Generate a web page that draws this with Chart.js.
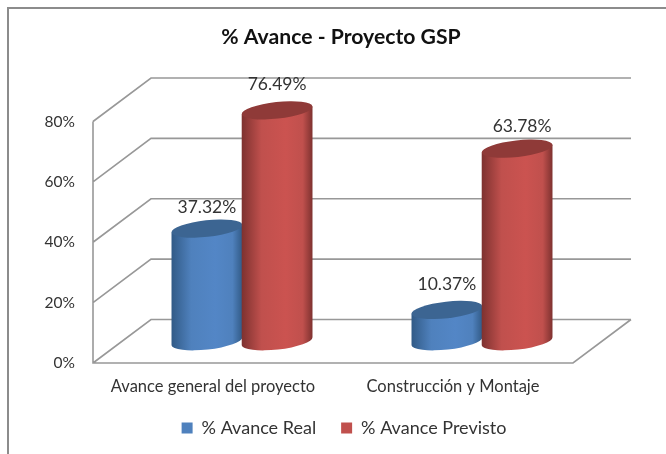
<!DOCTYPE html>
<html>
<head>
<meta charset="utf-8">
<style>html,body{margin:0;padding:0;background:#fff}#w{width:666px;height:454px;position:relative}</style>
<script src="https://cdn.jsdelivr.net/npm/chart.js@4/dist/chart.umd.min.js"></script>
</head>
<body>
<div id="w"><canvas id="c" width="666" height="454"></canvas></div>
<script>
const categories = ['Avance general del proyecto', 'Construcción y Montaje'];
const avanceReal = [37.32, 10.37];
const avancePrevisto = [76.49, 63.78];
const yTicks = [0, 20, 40, 60, 80];
const titleText = '% Avance - Proyecto GSP';
const seriesNames = ['% Avance Real', '% Avance Previsto'];
const seriesColors = ['#4f81bd', '#c0504d'];
const brightColors = ['#5386c6', '#cb5350'];
const edgeColors = ['#315a86', '#7d312f'];
const capColors = ['#3c6592', '#8f3a38'];

const FONT = 'Lato, "Open Sans", sans-serif';
const DEPTH_X = 58, DEPTH_Y = 43.5;
const TILT = 0.11, CAP_RY = 8.3;
const LABEL_GAP = 24;
const LABEL_NUDGE = [[[0, 3], [0, -2]], [[0, -2], [5, 2]]];

function drawCylinder(ctx, el, dsIndex) {
  const p = el.getProps(['x', 'y', 'base', 'width'], true);
  const rx = p.width / 2 + 0.5;
  const c = Math.cos(TILT) * rx, s = Math.sin(TILT) * rx;
  const g = ctx.createLinearGradient(p.x - rx, 0, p.x + rx, 0);
  g.addColorStop(0, edgeColors[dsIndex]);
  g.addColorStop(0.28, seriesColors[dsIndex]);
  g.addColorStop(0.62, brightColors[dsIndex]);
  g.addColorStop(0.86, seriesColors[dsIndex]);
  g.addColorStop(1, edgeColors[dsIndex]);
  ctx.beginPath();
  ctx.ellipse(p.x, p.base, rx, CAP_RY, -TILT, 0, Math.PI);
  ctx.lineTo(p.x - c, p.y + s);
  ctx.lineTo(p.x + c, p.y - s);
  ctx.closePath();
  ctx.fillStyle = g;
  ctx.fill();
  ctx.beginPath();
  ctx.ellipse(p.x, p.y, rx, CAP_RY, -TILT, 0, Math.PI * 2);
  ctx.fillStyle = capColors[dsIndex];
  ctx.fill();
}

const scene = {
  id: 'scene',
  beforeLayout(chart) {
    [chart.legend, chart.titleBlock].forEach(b => {
      if (b && !b._zeroed) {
        const f = b.update;
        b.update = function (w, h, m) { f.call(this, w, h, m); this.height = 0; };
        b._zeroed = true;
      }
    });
  },
  afterLayout(chart) {
    chart.titleBlock.left = 0; chart.titleBlock.right = 682; chart.titleBlock.top = 24.5;
    chart.legend.left = 22; chart.legend.right = 666; chart.legend.top = 394;
  },
  beforeDraw(chart) {
    const ctx = chart.ctx;
    ctx.save();
    ctx.strokeStyle = '#8c8c8c';
    ctx.lineWidth = 2;
    ctx.beginPath();
    ctx.moveTo(8, 454); ctx.lineTo(8, 8); ctx.lineTo(666, 8);
    ctx.stroke();
    ctx.restore();
  },
  beforeDatasetsDraw(chart) {
    const ctx = chart.ctx, a = chart.chartArea, y = chart.scales.y;
    ctx.save();
    ctx.strokeStyle = '#989898';
    ctx.lineWidth = 1.6;
    ctx.beginPath();
    yTicks.forEach(v => {
      const py = y.getPixelForValue(v);
      ctx.moveTo(a.left, py);
      ctx.lineTo(a.left + DEPTH_X, py - DEPTH_Y);
      ctx.lineTo(a.right + DEPTH_X, py - DEPTH_Y);
    });
    const y0 = y.getPixelForValue(0);
    ctx.moveTo(a.left, y.getPixelForValue(80));
    ctx.lineTo(a.left, y0);
    ctx.lineTo(a.right, y0);
    ctx.lineTo(a.right + DEPTH_X, y0 - DEPTH_Y);
    ctx.stroke();
    ctx.translate(DEPTH_X / 2, -DEPTH_Y / 2);
    chart.data.datasets.forEach((ds, i) => {
      chart.getDatasetMeta(i).data.forEach(el => drawCylinder(ctx, el, i));
    });
    ctx.fillStyle = '#333';
    ctx.font = '17.5px ' + FONT;
    ctx.textAlign = 'center';
    ctx.textBaseline = 'middle';
    chart.data.datasets.forEach((ds, i) => {
      chart.getDatasetMeta(i).data.forEach((el, j) => {
        const n = LABEL_NUDGE[i][j];
        ctx.fillText(ds.data[j].toFixed(2) + '%', el.x + n[0], el.y - LABEL_GAP + n[1]);
      });
    });
    ctx.restore();
    return false;
  }
};

new Chart(document.getElementById('c'), {
  type: 'bar',
  data: {
    labels: categories,
    datasets: [
      { label: seriesNames[0], data: avanceReal, backgroundColor: seriesColors[0] },
      { label: seriesNames[1], data: avancePrevisto, backgroundColor: seriesColors[1] }
    ]
  },
  options: {
    responsive: false,
    animation: false,
    layout: { padding: { top: 121.5, right: 93, bottom: 0, left: 0 } },
    datasets: { bar: { categoryPercentage: 0.585, barPercentage: 1 } },
    plugins: {
      tooltip: { enabled: false },
      title: {
        display: true, text: titleText, color: '#111',
        font: { family: FONT, size: 21.2, weight: 'bold' }, padding: 0
      },
      legend: {
        position: 'bottom',
        labels: {
          boxWidth: 11, boxHeight: 11, padding: 25, color: '#333',
          font: { family: FONT, size: 18 }
        }
      }
    },
    scales: {
      x: {
        grid: { display: false, drawTicks: false }, border: { display: false },
        ticks: { padding: 14, color: '#333', font: { family: FONT, size: 16.5 }, maxRotation: 0 },
        afterFit(s) { s.height = 91; }
      },
      y: {
        min: 0, max: 80,
        grid: { display: false, drawTicks: false }, border: { display: false },
        ticks: { padding: 18, stepSize: 20, color: '#333', font: { family: FONT, size: 15.5 }, callback: v => v + '%' },
        afterFit(s) { s.width = 93; }
      }
    }
  },
  plugins: [scene]
});
</script>
</body>
</html>
